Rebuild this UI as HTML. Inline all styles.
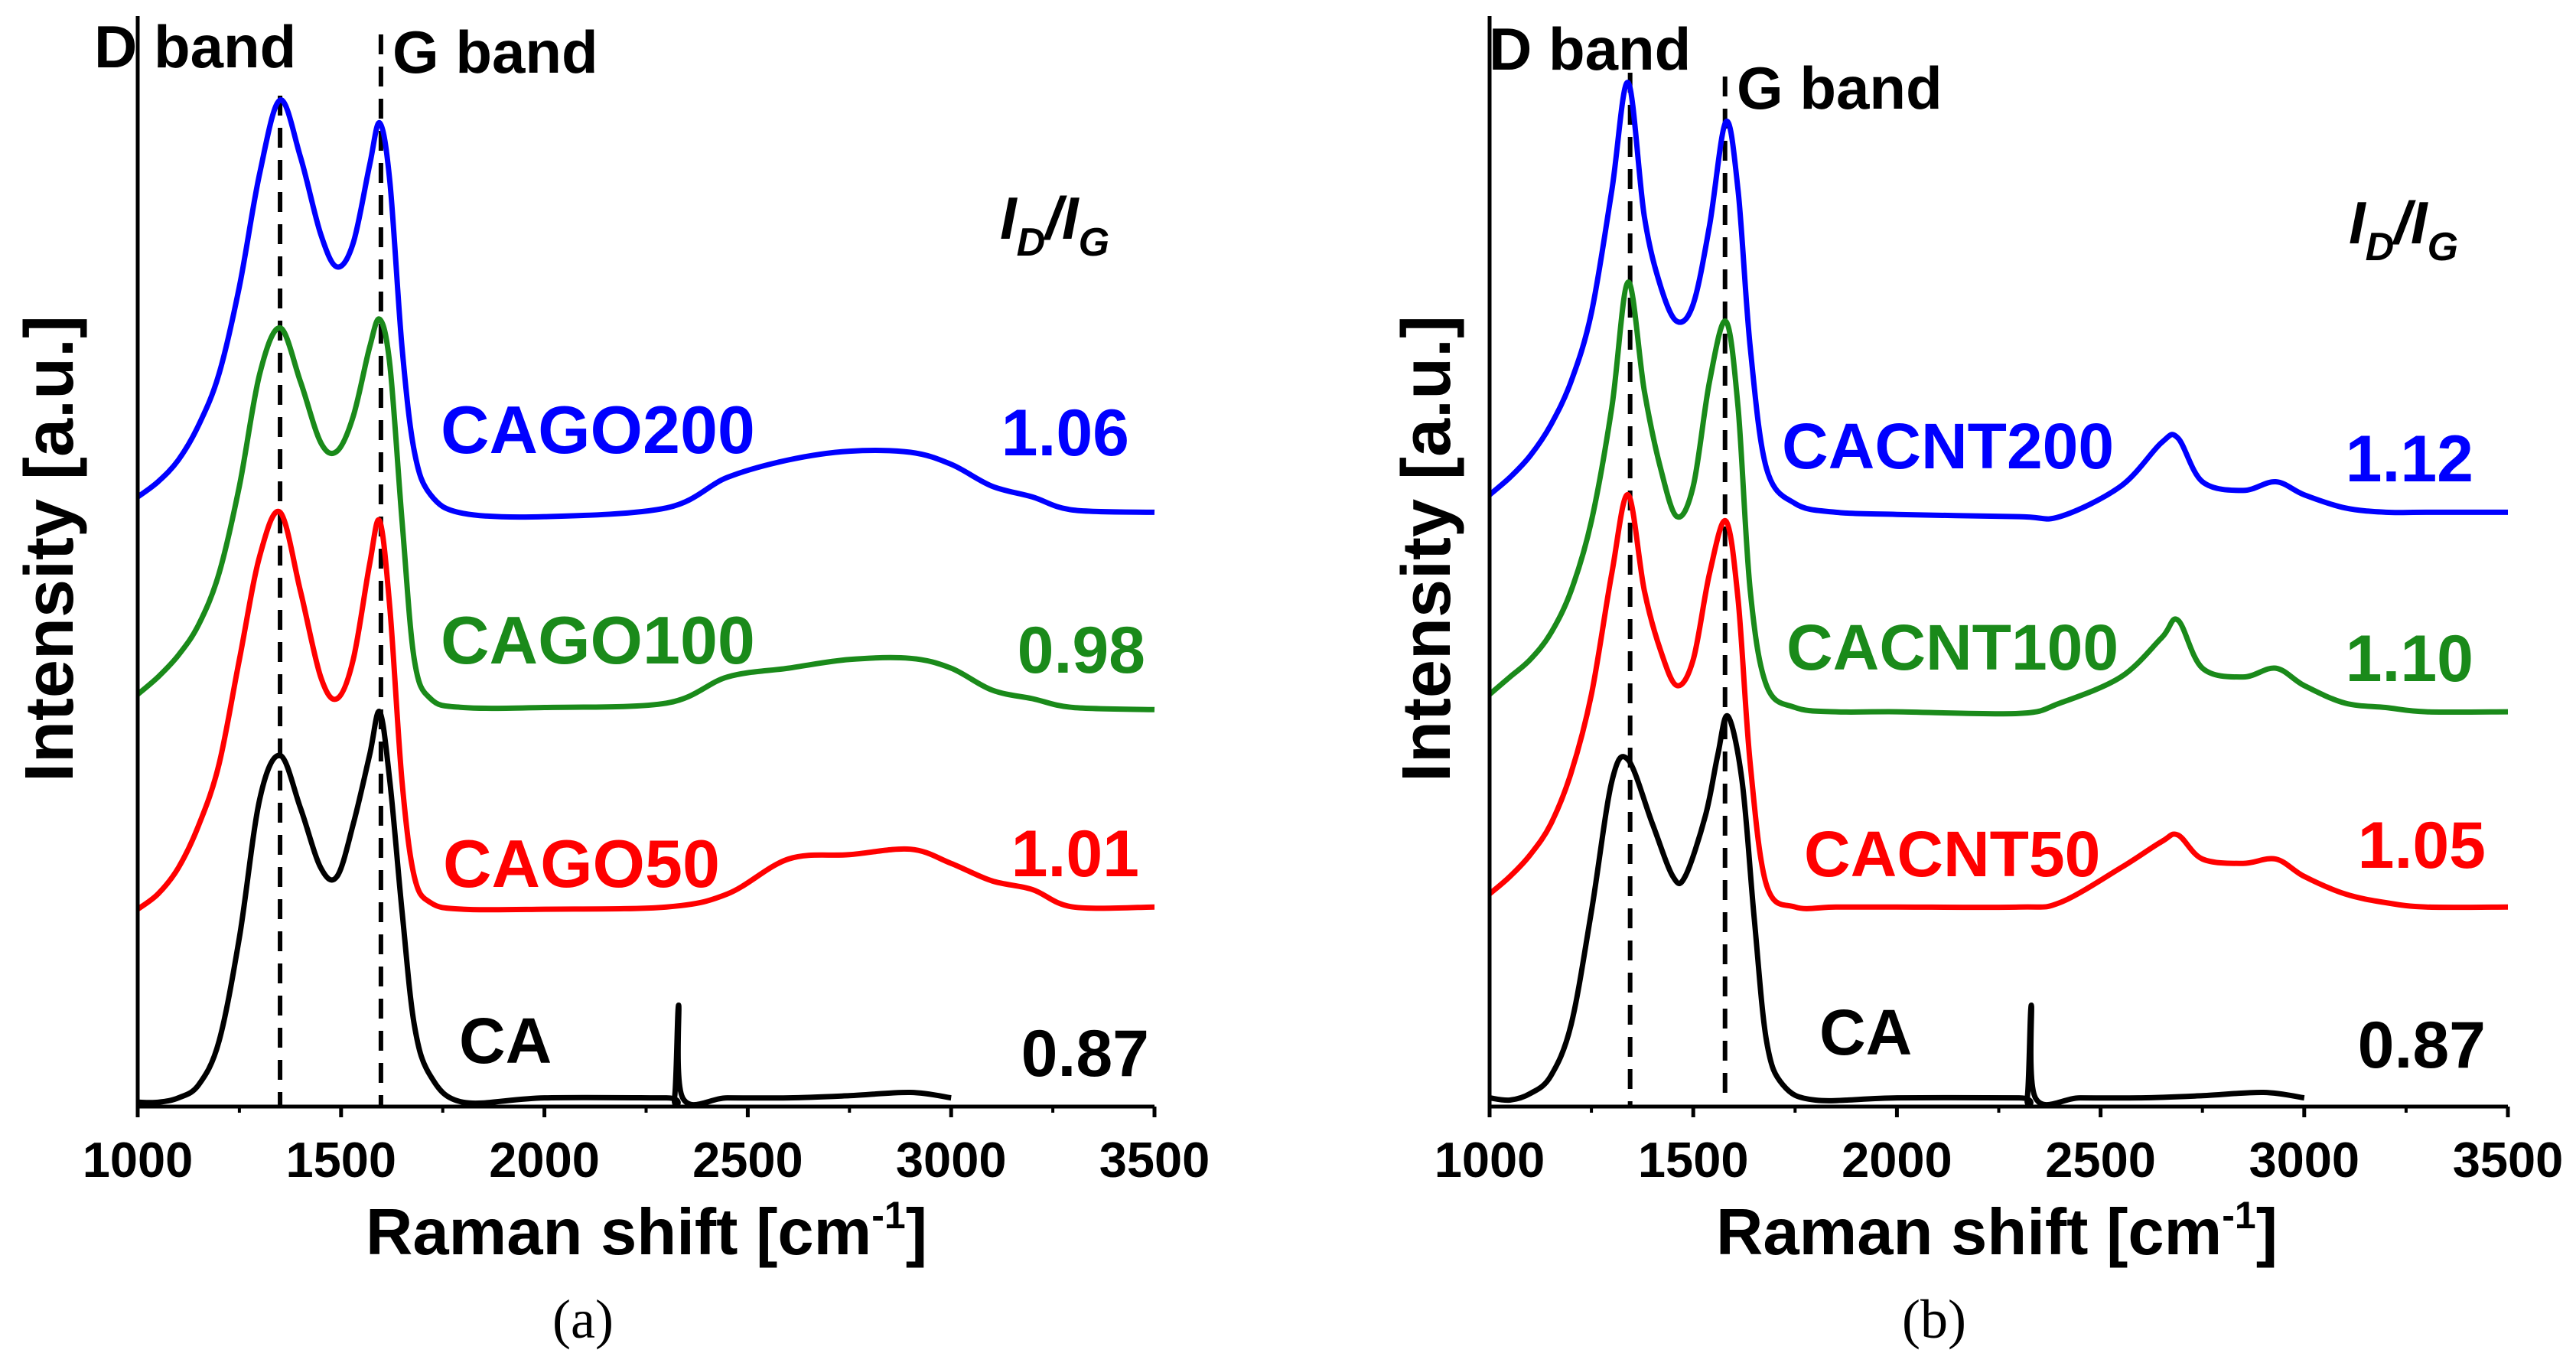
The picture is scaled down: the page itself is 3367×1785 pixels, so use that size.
<!DOCTYPE html>
<html><head><meta charset="utf-8"><style>
html,body{margin:0;padding:0;background:#fff;}
svg{display:block;}
text{font-family:"Liberation Sans",Arial,sans-serif;font-weight:bold;}
</style></head><body>
<svg id="chart" width="3367" height="1785" viewBox="0 0 3367 1785" xmlns="http://www.w3.org/2000/svg"></svg>
<script>
// ---- Panel (a) data ----
const xA = [1000,1050,1100,1150,1200,1250,1300,1350,1400,1450,1490,1530,1570,1595,1620,1650,1680,1720,1800,2000,2300,2450,2600,2750,2900,3000,3100,3200,3300,3500];
const cago200 = [55.9,57.3,59.3,62.5,67.2,75.2,85.6,92.3,87.1,80.0,77.0,79.2,86.3,90.2,84.8,69.6,60.1,56.1,54.4,54.1,54.9,57.7,59.3,60.1,60.0,58.9,56.9,55.9,54.7,54.5];
const cago100 = [37.8,39.4,41.4,44.2,48.9,56.9,67.2,71.4,66.5,60.9,60.1,63.3,69.6,72.2,68.0,53.7,41.0,37.4,36.6,36.6,37.0,39.4,40.2,41.0,41.1,40.2,38.2,37.4,36.6,36.4];
const cago50 = [18.1,19.5,21.9,25.8,31.4,41.0,50.5,54.5,47.3,39.4,37.4,41.0,49.7,53.7,45.7,29.8,21.1,18.7,18.1,18.1,18.3,19.5,22.7,23.1,23.6,22.3,20.7,19.9,18.3,18.3];
const xCA_A = [1000,1050,1100,1150,1200,1250,1300,1350,1400,1450,1490,1530,1570,1595,1620,1650,1680,1720,1800,2000,2300,2320,2330,2340,2450,2600,2750,2900,3000];
const caA = [0.4,0.4,0.8,2.0,6.0,15.5,28.2,32.2,27.4,21.9,21.1,25.9,32.2,36.2,29.8,17.9,7.5,2.8,0.4,0.8,0.8,0.8,9.3,0.8,0.8,0.8,1.0,1.3,0.8];
// ---- Panel (b) data ----
const xB = [1000,1050,1100,1150,1200,1250,1300,1340,1380,1420,1460,1500,1540,1580,1610,1640,1680,1750,1850,2000,2300,2400,2550,2650,2690,2750,2850,2930,3000,3100,3200,3300,3500];
const cacnt200 = [56.1,57.7,59.7,62.5,66.5,72.8,84.0,93.9,81.6,75.2,72.0,73.6,80.8,90.3,84.0,69.6,58.5,55.3,54.5,54.3,54.1,54.1,56.9,60.9,61.3,57.3,56.5,57.3,56.1,54.9,54.5,54.5,54.5];
const cacnt100 = [37.8,39.4,41.0,43.4,47.3,53.7,64.1,75.6,65.6,58.5,54.1,56.9,66.5,72.0,64.1,47.3,38.6,36.6,36.2,36.2,36.05,37.0,39.4,43.0,44.6,40.2,39.4,40.2,38.6,37.0,36.6,36.2,36.2];
const cacnt50 = [19.5,21.1,23.1,25.9,30.6,37.8,48.9,56.1,47.3,41.8,38.6,41.0,48.9,53.7,46.5,31.4,20.3,18.3,18.3,18.3,18.3,18.7,21.9,24.3,24.9,22.7,22.3,22.7,21.1,19.5,18.7,18.3,18.3];
const xCA_B = [1000,1050,1100,1150,1200,1250,1300,1340,1400,1450,1480,1530,1560,1585,1620,1650,1680,1720,1800,2000,2300,2320,2330,2340,2450,2600,2750,2900,3000];
const caB = [0.8,0.6,1.2,2.8,7.5,17.9,29.8,31.8,25.9,21.1,21.1,26.7,32.2,35.8,29.8,17.1,6.0,2.0,0.6,0.8,0.8,0.8,9.3,0.8,0.8,0.8,1.0,1.3,0.8];
const xTicks = [1000,1500,2000,2500,3000,3500];
const labelsA = ["CAGO200","CAGO100","CAGO50","CA"];
const ratiosA = ["1.06","0.98","1.01","0.87"];
const labelsB = ["CACNT200","CACNT100","CACNT50","CA"];
const ratiosB = ["1.12","1.10","1.05","0.87"];
const bandsA = [1350,1598];
const bandsB = [1345,1578];

const NS="http://www.w3.org/2000/svg";
const svg=document.getElementById('chart');
function mk(tag,attrs,parent){const e=document.createElementNS(NS,tag);for(const k in attrs)e.setAttribute(k,attrs[k]);(parent||svg).appendChild(e);return e;}
const yTop=21, yBot=1446;
function yS(v){return yBot-(v/100)*(yBot-yTop);}
function path(xs,vs,xS){
  const p=xs.map((x,i)=>[xS(x),yS(vs[i])]);
  let d='M'+p[0][0].toFixed(1)+','+p[0][1].toFixed(1);
  for(let i=0;i<p.length-1;i++){
    const p0=p[Math.max(0,i-1)],p1=p[i],p2=p[i+1],p3=p[Math.min(p.length-1,i+2)];
    const c1=[p1[0]+(p2[0]-p0[0])/6,p1[1]+(p2[1]-p0[1])/6];
    const c2=[p2[0]-(p3[0]-p1[0])/6,p2[1]-(p3[1]-p1[1])/6];
    d+=`C${c1[0].toFixed(1)},${c1[1].toFixed(1)} ${c2[0].toFixed(1)},${c2[1].toFixed(1)} ${p2[0].toFixed(1)},${p2[1].toFixed(1)}`;
  }
  return d;
}
function panel(cfg){
  const g=mk('g',{});
  
  
  const xS=x=>cfg.x0+(x-1000)/2500*(cfg.x1-cfg.x0);
  cfg.bands.forEach((b,i)=>{
    const l=mk('line',{x1:xS(b),x2:xS(b),y1:cfg.dashTop[i],y2:yBot,stroke:'#000','stroke-width':6,'stroke-dasharray':'26,16'},g);
    
    
  });
  cfg.series.forEach(s=>{
    const p=mk('path',{d:path(s.x,s.v,xS),fill:'none',stroke:s.c,'stroke-width':7,'stroke-linejoin':'round'},g);
    
    
  });
  const ax=mk('path',{d:`M${cfg.x0},${yTop}V${yBot}H${cfg.x1}`,fill:'none',stroke:'#000','stroke-width':5},g);
  
  
  xTicks.forEach(t=>{
    mk('line',{x1:xS(t),x2:xS(t),y1:yBot,y2:yBot+14,stroke:'#000','stroke-width':5},g);
    const tx=mk('text',{x:xS(t),y:1538,'font-size':65,'text-anchor':'middle'},g);
    tx.textContent=t;
    
    
  });
  for(let t=1250;t<3500;t+=500){mk('line',{x1:xS(t),x2:xS(t),y1:yBot,y2:yBot+8,stroke:'#000','stroke-width':4},g);}
  cfg.labels.forEach(L=>{
    const t=mk('text',{x:L.x,y:L.y,'font-size':L.fs,fill:L.c,'text-anchor':L.a||'start'},g);
    t.textContent=L.t;
    
    
  });
  const yt=mk('text',{x:0,y:0,'font-size':90,'text-anchor':'middle',transform:`translate(${cfg.ytx},717) rotate(-90)`},g);
  yt.textContent='Intensity [a.u.]';
  
  
  const xt=mk('text',{x:cfg.xtx,y:1639,'font-size':85,'text-anchor':'middle'},g);
  xt.innerHTML='Raman shift [cm<tspan font-size="50" dy="-34">-1</tspan><tspan dy="34">]</tspan>';
  
  
  const ig=mk('text',{x:cfg.igx,y:cfg.igy,'font-size':78,'font-style':'italic'},g);
  ig.innerHTML='I<tspan font-size="52" dy="22">D</tspan><tspan dy="-22">/I</tspan><tspan font-size="52" dy="22">G</tspan>';
  
  
  const cap=mk('text',{x:cfg.capx,y:1748,'font-size':72,'text-anchor':'middle',style:'font-family:"Liberation Serif",serif;font-weight:normal'},g);
  cap.textContent=cfg.cap;
  
  
}
const cols=['#0000ff','#1a8a1a','#ff0000','#000000'];
panel({name:'panel-a',x0:180,x1:1509,bands:bandsA,dashTop:[125,45],
  series:[{n:'cago200',x:xA,v:cago200,c:cols[0]},{n:'cago100',x:xA,v:cago100,c:cols[1]},{n:'cago50',x:xA,v:cago50,c:cols[2]},{n:'ca',x:xCA_A,v:caA,c:cols[3]}],
  labels:[
   {t:'D band',x:123,y:88,fs:78,c:'#000',n:'d-band-label'},
   {t:'G band',x:513,y:95,fs:78,c:'#000',n:'g-band-label'},
   {t:labelsA[0],x:576,y:592,fs:88,c:cols[0],n:'label-cago200'},
   {t:labelsA[1],x:576,y:867,fs:88,c:cols[1],n:'label-cago100'},
   {t:labelsA[2],x:579,y:1159,fs:88,c:cols[2],n:'label-cago50'},
   {t:labelsA[3],x:600,y:1389,fs:84,c:cols[3],n:'label-ca'},
   {t:ratiosA[0],x:1476,y:595,fs:86,c:cols[0],a:'end',n:'ratio-cago200'},
   {t:ratiosA[1],x:1497,y:879,fs:86,c:cols[1],a:'end',n:'ratio-cago100'},
   {t:ratiosA[2],x:1489,y:1145,fs:86,c:cols[2],a:'end',n:'ratio-cago50'},
   {t:ratiosA[3],x:1502,y:1406,fs:86,c:cols[3],a:'end',n:'ratio-ca'}],
  ytx:95,xtx:845,igx:1307,igy:312,capx:762,cap:'(a)'});
panel({name:'panel-b',x0:1947,x1:3278,bands:bandsB,dashTop:[95,100],
  series:[{n:'cacnt200',x:xB,v:cacnt200,c:cols[0]},{n:'cacnt100',x:xB,v:cacnt100,c:cols[1]},{n:'cacnt50',x:xB,v:cacnt50,c:cols[2]},{n:'ca',x:xCA_B,v:caB,c:cols[3]}],
  labels:[
   {t:'D band',x:1946,y:91,fs:78,c:'#000',n:'d-band-label'},
   {t:'G band',x:2270,y:142,fs:78,c:'#000',n:'g-band-label'},
   {t:labelsB[0],x:2329,y:612,fs:84,c:cols[0],n:'label-cacnt200'},
   {t:labelsB[1],x:2335,y:875,fs:84,c:cols[1],n:'label-cacnt100'},
   {t:labelsB[2],x:2358,y:1145,fs:84,c:cols[2],n:'label-cacnt50'},
   {t:labelsB[3],x:2378,y:1378,fs:84,c:cols[3],n:'label-ca'},
   {t:ratiosB[0],x:3233,y:629,fs:86,c:cols[0],a:'end',n:'ratio-cacnt200'},
   {t:ratiosB[1],x:3233,y:890,fs:86,c:cols[1],a:'end',n:'ratio-cacnt100'},
   {t:ratiosB[2],x:3249,y:1134,fs:86,c:cols[2],a:'end',n:'ratio-cacnt50'},
   {t:ratiosB[3],x:3249,y:1395,fs:86,c:cols[3],a:'end',n:'ratio-ca'}],
  ytx:1895,xtx:2610,igx:3070,igy:318,capx:2528,cap:'(b)'});
</script>
</body></html>
